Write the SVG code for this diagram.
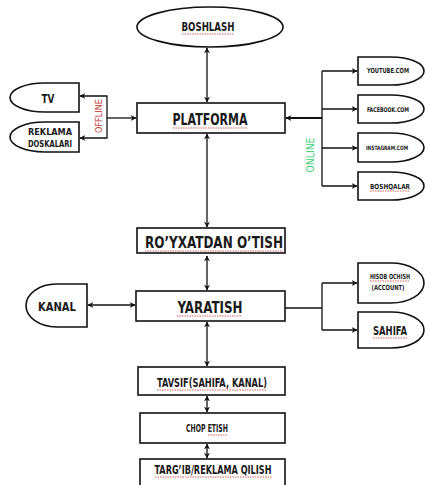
<svg xmlns="http://www.w3.org/2000/svg" width="425" height="485" viewBox="0 0 425 485">
<style>
.shape{fill:#fff;stroke:#111;stroke-width:1.6}
.t{font-family:"DejaVu Sans Condensed","DejaVu Sans","Liberation Sans",sans-serif;font-weight:bold;fill:#1a1a1a;text-anchor:middle}
.c{fill:none;stroke:#111;stroke-width:1.3}
.thick{stroke-width:2.2}
.sq{fill:none;stroke:#d05050;stroke-width:0.9;stroke-dasharray:1.5 1}
</style>
<defs>
<marker id="ah" viewBox="0 0 10 10" refX="9" refY="5" markerWidth="6" markerHeight="6" orient="auto-start-reverse" markerUnits="userSpaceOnUse">
<path d="M0,0 L10,5 L0,10 L3,5 Z" fill="#111"/>
</marker>
</defs>
<rect width="425" height="485" fill="#fff"/>
<g id="connectors">
<line class="c" x1="207" y1="48" x2="207" y2="102" marker-start="url(#ah)" marker-end="url(#ah)"/>
<line class="c" x1="207" y1="134" x2="207" y2="227" marker-start="url(#ah)" marker-end="url(#ah)"/>
<line class="c" x1="207" y1="256" x2="207" y2="290" marker-start="url(#ah)" marker-end="url(#ah)"/>
<line class="c" x1="207" y1="322" x2="207" y2="366" marker-start="url(#ah)" marker-end="url(#ah)"/>
<line class="c" x1="207" y1="396" x2="207" y2="412" marker-start="url(#ah)" marker-end="url(#ah)"/>
<line class="c" x1="207" y1="444" x2="207" y2="458" marker-start="url(#ah)" marker-end="url(#ah)"/>
<line class="c" x1="88" y1="305" x2="135" y2="305" marker-start="url(#ah)" marker-end="url(#ah)"/>
<line class="c" x1="107" y1="118" x2="136" y2="118" marker-end="url(#ah)"/>
<polyline class="c" points="80,96 107,96 107,138 80,138" marker-start="url(#ah)" marker-end="url(#ah)"/>
<line class="c thick" x1="322" y1="118" x2="286" y2="118" marker-end="url(#ah)"/>
<line class="c" x1="322" y1="71" x2="322" y2="186"/>
<line class="c" x1="322" y1="71" x2="357" y2="71" marker-end="url(#ah)"/>
<line class="c" x1="322" y1="109" x2="357" y2="109" marker-end="url(#ah)"/>
<line class="c" x1="322" y1="148" x2="357" y2="148" marker-end="url(#ah)"/>
<line class="c" x1="322" y1="186" x2="357" y2="186" marker-end="url(#ah)"/>
<polyline class="c" points="285,308 322,308"/>
<line class="c" x1="322" y1="283" x2="322" y2="330"/>
<line class="c" x1="322" y1="283" x2="357" y2="283" marker-end="url(#ah)"/>
<line class="c" x1="322" y1="330" x2="357" y2="330" marker-end="url(#ah)"/>
</g>
<g id="boshlash">
<ellipse class="shape" cx="210" cy="27" rx="73" ry="20"/>
<text class="t" x="208" y="31" font-size="12" textLength="53" lengthAdjust="spacingAndGlyphs">BOSHLASH</text>
<line class="sq" x1="182" y1="34" x2="234" y2="34"/>
</g>
<g id="platforma">
<rect class="shape" x="137" y="103" width="148" height="30"/>
<text class="t" x="210" y="125" font-size="16" textLength="75" lengthAdjust="spacingAndGlyphs">PLATFORMA</text>
<line class="sq" x1="173" y1="128" x2="248" y2="128"/>
</g>
<g id="tv">
<path class="shape" d="M79,83 H44.5 A34.5,14.5 0 0 0 44.5,112 H79 Z"/>
<text class="t" x="48" y="103" font-size="13" textLength="13" lengthAdjust="spacingAndGlyphs">TV</text>
</g>
<g id="reklama">
<path class="shape" d="M79,122 H44.5 A34.5,15 0 0 0 44.5,152 H79 Z"/>
<text class="t" x="50" y="135" font-size="9" textLength="44" lengthAdjust="spacingAndGlyphs">REKLAMA</text>
<text class="t" x="50" y="147" font-size="8" textLength="44" lengthAdjust="spacingAndGlyphs">DOSKALARI</text>
</g>
<text class="t" transform="translate(102,116) rotate(-90)" font-size="9" style="fill:#c83c3c;font-weight:normal" textLength="34" lengthAdjust="spacingAndGlyphs">OFFLINE</text>
<text class="t" transform="translate(314,155) rotate(-90)" font-size="11" style="fill:#3ccf73;font-weight:normal" textLength="35" lengthAdjust="spacingAndGlyphs">ONLINE</text>
<g id="youtube">
<path class="shape" d="M358,57 H391 A33,14 0 0 1 391,85 H358 Z"/>
<text class="t" x="388" y="73" font-size="7" textLength="42" lengthAdjust="spacingAndGlyphs">YOUTUBE.COM</text>
</g>
<g id="facebook">
<path class="shape" d="M358,95 H391 A33,14 0 0 1 391,123 H358 Z"/>
<text class="t" x="388" y="111.5" font-size="6.5" textLength="42" lengthAdjust="spacingAndGlyphs">FACEBOOK.COM</text>
</g>
<g id="instagram">
<path class="shape" d="M358,133 H391 A33,14.5 0 0 1 391,162 H358 Z"/>
<text class="t" x="387" y="150" font-size="6" textLength="42" lengthAdjust="spacingAndGlyphs">INSTAGRAM.COM</text>
</g>
<g id="boshqalar">
<path class="shape" d="M358,172 H391 A33,14 0 0 1 391,200 H358 Z"/>
<text class="t" x="390" y="188.5" font-size="7" textLength="40" lengthAdjust="spacingAndGlyphs">BOSHQALAR</text>
<line class="sq" x1="370" y1="191" x2="410" y2="191"/>
</g>
<g id="royxatdan">
<rect class="shape" x="137" y="228" width="148" height="25"/>
<text class="t" x="214" y="248" font-size="16" textLength="138" lengthAdjust="spacingAndGlyphs">RO’YXATDAN O’TISH</text>
<line class="sq" x1="145" y1="251" x2="283" y2="251"/>
</g>
<g id="kanal">
<path class="shape" d="M87,284 H56.5 A30.5,21.5 0 0 0 56.5,327 H87 Z"/>
<text class="t" x="57" y="311" font-size="12" textLength="38" lengthAdjust="spacingAndGlyphs">KANAL</text>
</g>
<g id="yaratish">
<rect class="shape" x="136" y="291" width="149" height="30"/>
<text class="t" x="210" y="313" font-size="16" textLength="65" lengthAdjust="spacingAndGlyphs">YARATISH</text>
<line class="sq" x1="177" y1="316" x2="242" y2="316"/>
</g>
<g id="hisob">
<path class="shape" d="M358,263 H391 A33,20 0 0 1 391,303 H358 Z"/>
<text class="t" x="390" y="279" font-size="7" textLength="40" lengthAdjust="spacingAndGlyphs">HISOB OCHISH</text>
<line class="sq" x1="370" y1="281" x2="410" y2="281"/>
<text class="t" x="388" y="290" font-size="7" textLength="33" lengthAdjust="spacingAndGlyphs">(ACCOUNT)</text>
</g>
<g id="sahifa">
<path class="shape" d="M358,312 H391 A33,18 0 0 1 391,348 H358 Z"/>
<text class="t" x="390" y="335" font-size="12" textLength="34" lengthAdjust="spacingAndGlyphs">SAHIFA</text>
<line class="sq" x1="373" y1="338" x2="407" y2="338"/>
</g>
<g id="tavsif">
<rect class="shape" x="138" y="367" width="147" height="28"/>
<text class="t" x="212" y="387" font-size="12" textLength="110" lengthAdjust="spacingAndGlyphs">TAVSIF(SAHIFA, KANAL)</text>
<line class="sq" x1="157" y1="390" x2="267" y2="390"/>
</g>
<g id="chop">
<rect class="shape" x="140" y="413" width="145" height="30"/>
<text class="t" x="207" y="432" font-size="11" textLength="42" lengthAdjust="spacingAndGlyphs">CHOP ETISH</text>
<line class="sq" x1="208" y1="435" x2="228" y2="435"/>
</g>
<g id="targib">
<rect class="shape" x="140" y="459" width="145" height="30"/>
<text class="t" x="213" y="474" font-size="12" textLength="117" lengthAdjust="spacingAndGlyphs">TARG’IB/REKLAMA QILISH</text>
<line class="sq" x1="155" y1="477" x2="272" y2="477"/>
</g>
</svg>
